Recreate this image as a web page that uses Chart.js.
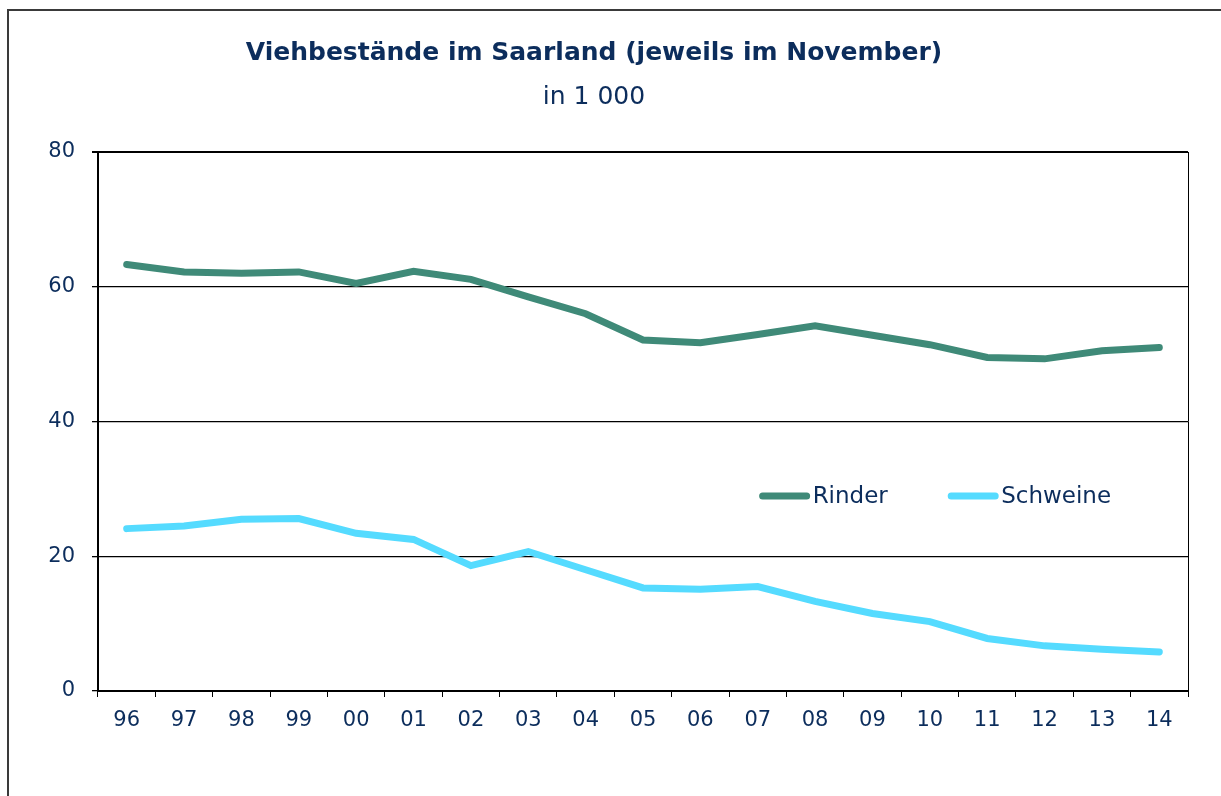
<!DOCTYPE html>
<html><head><meta charset="utf-8">
<script src="https://cdn.jsdelivr.net/npm/chart.js@4/dist/chart.umd.min.js"></script>
<style>
html,body{margin:0;padding:0;background:#fff;}
#wrap{position:relative;width:1221px;height:796px;overflow:hidden;background:#fff;}
#frame{position:absolute;left:7px;top:9px;width:1300px;height:900px;border-top:2px solid #3a3a3a;border-left:2px solid #3a3a3a;}
canvas{position:absolute;left:0;top:0;}
</style></head><body>
<div id="wrap"><div id="frame"></div><canvas id="c" width="1221" height="796"></canvas></div>
<script>
const years = ['96','97','98','99','00','01','02','03','04','05','06','07','08','09','10','11','12','13','14'];
const rinder = [63.3,62.2,62.0,62.2,60.5,62.3,61.1,58.5,56.0,52.1,51.7,52.9,54.2,52.8,51.4,49.5,49.3,50.5,51.0];
const schweine = [24.1,24.5,25.5,25.6,23.4,22.5,18.6,20.7,18.0,15.3,15.1,15.5,13.3,11.5,10.3,7.8,6.7,6.2,5.8];
const yTicks = [0,20,40,60,80];
const seriesNames = ['Rinder','Schweine'];
const seriesColors = ['#3f8a78','#55dbff'];

const textColor = '#0c2d5c';
const fam = '"DejaVu Sans", Verdana, sans-serif';

const legendPlugin = {
  id:'inLegend',
  afterDatasetsDraw(chart){
    const {ctx, chartArea:a} = chart;
    const w = a.right - a.left, h = a.bottom - a.top;
    const xs = [0.607, 0.780];
    const y = a.top + 0.638*h;
    ctx.save();
    chart.data.datasets.forEach((ds,i)=>{
      const x0 = a.left + xs[i]*w;
      ctx.strokeStyle = ds.borderColor; ctx.lineWidth = 7; ctx.lineCap='round';
      ctx.beginPath(); ctx.moveTo(x0+3,y); ctx.lineTo(x0+47,y); ctx.stroke();
      ctx.fillStyle = textColor; ctx.font = '23px '+fam; ctx.textBaseline='middle'; ctx.textAlign='left';
      ctx.fillText(ds.label, x0+53, y+1);
    });
    ctx.restore();
  },
  beforeDatasetsDraw(chart){
    const {ctx, chartArea:a} = chart;
    ctx.save(); ctx.strokeStyle='#000'; ctx.lineWidth=1;
    ctx.beginPath(); ctx.moveTo(a.right+0.5,a.top); ctx.lineTo(a.right+0.5,a.bottom); ctx.stroke();
    ctx.restore();
  }
};

new Chart(document.getElementById('c'), {
  type:'line',
  data:{
    labels: years,
    datasets:[
      {label:seriesNames[0], data:rinder, borderColor:seriesColors[0], backgroundColor:seriesColors[0], borderWidth:7, borderCapStyle:'round', pointRadius:0, tension:0, fill:false},
      {label:seriesNames[1], data:schweine, borderColor:seriesColors[1], backgroundColor:seriesColors[1], borderWidth:7, borderCapStyle:'round', pointRadius:0, tension:0, fill:false}
    ]
  },
  options:{
    responsive:false, animation:false,
    layout:{padding:{left:0,right:33,top:0,bottom:0}},
    plugins:{
      legend:{display:false}, tooltip:{enabled:false},
      title:{display:true, text:'Viehbestände im Saarland (jeweils im November)', color:textColor, font:{family:fam,size:25,weight:'bold'}, padding:{top:38,bottom:14}},
      subtitle:{display:true, text:'in 1 000', color:textColor, font:{family:fam,size:25}, padding:{bottom:40}}
    },
    scales:{
      x:{
        type:'category', offset:true,
        grid:{offset:true, drawOnChartArea:false, drawTicks:true, tickLength:6, color:'#000', lineWidth:1},
        border:{color:'#000', width:2},
        ticks:{color:textColor, font:{family:fam,size:21}, padding:11, maxRotation:0, autoSkip:false},
        afterFit(s){ s.height = 105; }
      },
      y:{
        min:0, max:80,
        afterBuildTicks(s){ s.ticks = yTicks.map(v=>({value:v})); },
        grid:{color:'#000', lineWidth(c){ return c.tick && c.tick.value===80 ? 2 : 1.3; }, tickLength:6},
        border:{color:'#000', width:2},
        ticks:{color:textColor, font:{family:fam,size:21}, padding:17},
        afterFit(s){ s.width = 98; }
      }
    }
  },
  plugins:[legendPlugin]
});
</script>
</body></html>
